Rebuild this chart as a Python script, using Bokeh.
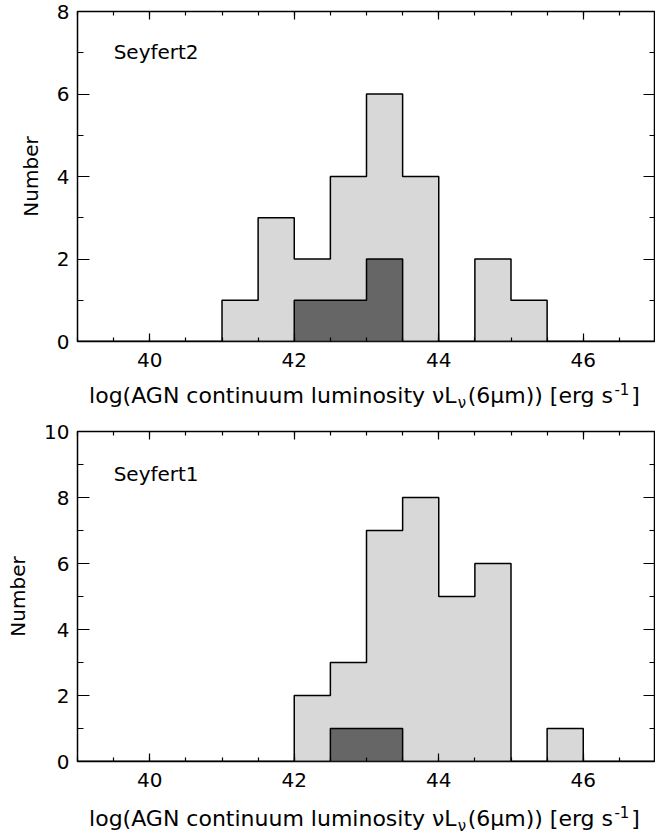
from bokeh.plotting import figure
from bokeh.layouts import column
from bokeh.models import Label, LinearAxis, SingleIntervalTicker, Range1d
from bokeh.embed import file_html
from bokeh.resources import INLINE

# ---------------- data ----------------
bin_edges = [39.0, 39.5, 40.0, 40.5, 41.0, 41.5, 42.0, 42.5, 43.0,
             43.5, 44.0, 44.5, 45.0, 45.5, 46.0, 46.5, 47.0]
seyfert2_all = [0, 0, 0, 0, 1, 3, 2, 4, 6, 4, 0, 2, 1, 0, 0, 0]
seyfert2_sub = [0, 0, 0, 0, 0, 0, 1, 1, 2, 0, 0, 0, 0, 0, 0, 0]
seyfert1_all = [0, 0, 0, 0, 0, 0, 2, 3, 7, 8, 5, 6, 0, 1, 0, 0]
seyfert1_sub = [0, 0, 0, 0, 0, 0, 0, 1, 1, 0, 0, 0, 0, 0, 0, 0]
x_limits = (39.0, 47.0)
panel_names = ["Seyfert2", "Seyfert1"]
y_max = [8, 10]

FONT = "DejaVu Sans"
LIGHT = "#d8d8d8"
DARK = "#666666"

# approximate DejaVu Sans advance widths (em) for laying out the x title pieces
ADV = {' ': 0.318, '(': 0.390, ')': 0.390, '[': 0.390, ']': 0.390, 'A': 0.684,
       'G': 0.775, 'N': 0.748, 'L': 0.557, 'c': 0.550, 'e': 0.615, 'g': 0.635,
       'i': 0.278, 'l': 0.278, 'm': 0.974, 'n': 0.634, 'o': 0.612, 'r': 0.411,
       's': 0.521, 't': 0.392, 'u': 0.634, 'y': 0.592, 'ν': 0.592, 'μ': 0.636,
       '-': 0.361}
ASC, DESC = 0.928, 0.236  # font box metrics (em)


def text_w(s, size):
    return sum(ADV.get(ch, 0.636) for ch in s) * size


def mid_from_baseline(b, size):
    return b + (ASC - DESC) / 2 * size


def step_xy(edges, counts):
    xs, ys = [edges[0]], [0]
    for i, c in enumerate(counts):
        xs += [edges[i], edges[i + 1]]
        ys += [c, c]
    xs.append(edges[-1])
    ys.append(0)
    return xs, ys


LEFT_B = 77
FRAME_W = 578


def make_panel(counts_all, counts_sub, ymax, name, name_y, top_b, frame_h, bottom_b):
    p = figure(x_range=Range1d(*x_limits), y_range=Range1d(0, ymax),
               frame_width=FRAME_W, frame_height=frame_h,
               min_border_left=LEFT_B, min_border_right=0,
               min_border_top=top_b, min_border_bottom=bottom_b,
               output_backend="svg", toolbar_location=None)
    p.grid.visible = False
    p.outline_line_color = "black"
    p.outline_line_width = 1.5
    p.background_fill_color = "white"
    p.border_fill_color = "white"

    xs, ys = step_xy(bin_edges, counts_all)
    p.patch(xs, ys, fill_color=LIGHT, line_color="black", line_width=1.5)
    xs2, ys2 = step_xy(bin_edges, counts_sub)
    p.patch(xs2, ys2, fill_color=DARK, line_color="black", line_width=1.5)

    xa = p.xaxis[0]
    xa.ticker = SingleIntervalTicker(interval=2, num_minor_ticks=4)
    xa.major_tick_in = 8
    xa.major_tick_out = 0
    xa.minor_tick_in = 4
    xa.minor_tick_out = 0
    xa.axis_line_color = None
    xa.major_tick_line_width = 1.2
    xa.minor_tick_line_width = 1.2
    xa.major_label_text_font = FONT
    xa.major_label_text_font_size = "20px"
    xa.major_label_text_color = "black"
    xa.major_label_standoff = 11

    ya = p.yaxis[0]
    ya.ticker = SingleIntervalTicker(interval=2, num_minor_ticks=2)
    ya.major_tick_in = 12
    ya.major_tick_out = 0
    ya.minor_tick_in = 6
    ya.minor_tick_out = 0
    ya.axis_line_color = None
    ya.major_tick_line_width = 1.2
    ya.minor_tick_line_width = 1.2
    ya.major_label_text_font = FONT
    ya.major_label_text_font_size = "20px"
    ya.major_label_text_color = "black"
    ya.major_label_standoff = 8
    ya.axis_label = "Number"
    ya.axis_label_text_font = FONT
    ya.axis_label_text_font_size = "20px"
    ya.axis_label_text_font_style = "normal"
    ya.axis_label_text_color = "black"
    ya.axis_label_standoff = 11

    top = LinearAxis(ticker=SingleIntervalTicker(interval=2, num_minor_ticks=4),
                     major_tick_in=8, major_tick_out=0, minor_tick_in=4, minor_tick_out=0,
                     axis_line_color=None, major_label_text_font_size="0px",
                     major_label_text_color=None,
                     major_label_standoff=0, major_tick_line_width=1.2, minor_tick_line_width=1.2)
    p.add_layout(top, "above")
    right = LinearAxis(ticker=SingleIntervalTicker(interval=2, num_minor_ticks=2),
                       major_tick_in=12, major_tick_out=0, minor_tick_in=6, minor_tick_out=0,
                       axis_line_color=None, major_label_text_font_size="0px",
                       major_label_text_color=None,
                       major_label_standoff=0, major_tick_line_width=1.2, minor_tick_line_width=1.2)
    p.add_layout(right, "right")

    p.add_layout(Label(x=39.5, y=name_y, text=name, text_font=FONT,
                       text_font_size="20px", text_baseline="middle",
                       text_align="left", text_color="black"))
    return p


def make_title_strip(height, baseline=9):
    """Frameless strip, aligned with the panel frame, holding the x title."""
    s = figure(x_range=Range1d(*x_limits), y_range=Range1d(0, height),
               frame_width=FRAME_W, frame_height=height,
               min_border_left=LEFT_B, min_border_right=0,
               min_border_top=0, min_border_bottom=0,
               x_axis_location=None, y_axis_location=None,
               output_backend="svg", toolbar_location=None)
    s.grid.visible = False
    s.outline_line_color = None
    px = (x_limits[1] - x_limits[0]) / FRAME_W
    big, small = 22, 15
    pieces = [("log(AGN continuum luminosity νL", big, 0, 0),
              ("ν", small, -5, 0),
              ("(6μm)) [erg s", big, 0, 1),
              ("-1", small, 9, 1),
              ("]", big, 0, 2)]
    total = sum(text_w(t, sz) + g for t, sz, _, g in pieces)
    xpos = 364 - LEFT_B - total / 2
    for t, sz, dy, g in pieces:
        xpos += g
        s.add_layout(Label(x=x_limits[0] + xpos * px,
                           y=mid_from_baseline(baseline + dy, sz), text=t,
                           text_font=FONT, text_font_size=f"{sz}px",
                           text_baseline="middle", text_align="left",
                           text_color="black"))
        xpos += text_w(t, sz)
    return s


p1 = make_panel(seyfert2_all, seyfert2_sub, y_max[0], panel_names[0], 7.01, 11, 330, 38)
s1 = make_title_strip(33)
p2 = make_panel(seyfert1_all, seyfert1_sub, y_max[1], panel_names[1], 8.71, 19, 330, 38)
s2 = make_title_strip(36)

layout = column(p1, s1, p2, s2, spacing=0)
open("out.html", "w").write(file_html(layout, INLINE))
